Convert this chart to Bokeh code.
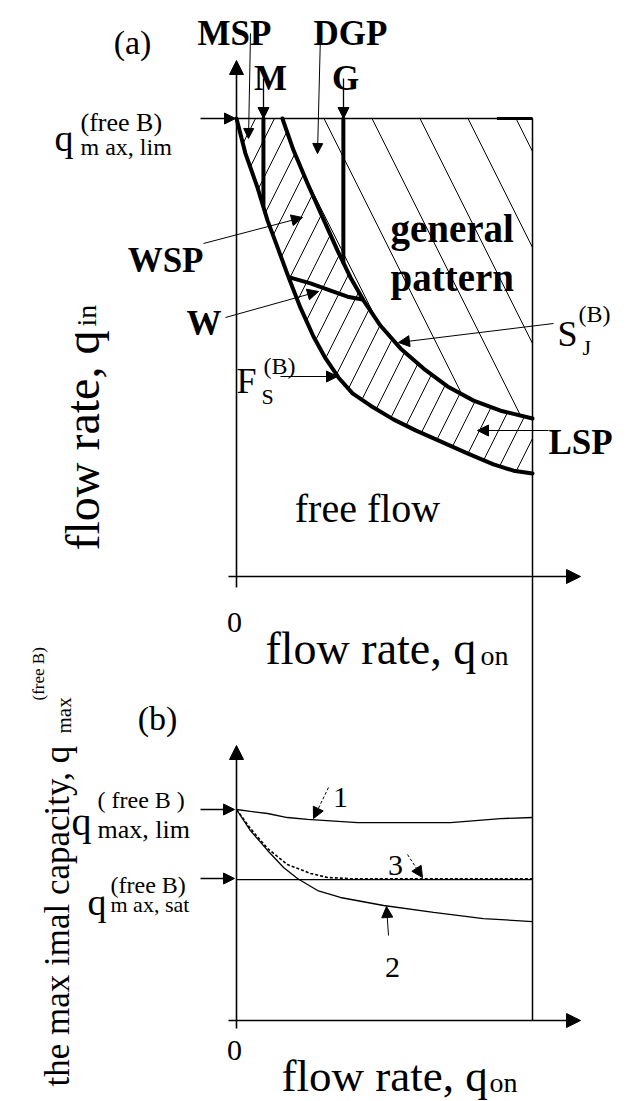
import math
from bokeh.plotting import figure
from bokeh.models import Range1d, Label, Arrow, NormalHead
from bokeh.embed import file_html
from bokeh.resources import INLINE

# ---------------- data: panel (a) ----------------
# lower boundary of synchronized flow F_S^(B)
qon_FS = [0.000, 0.030, 0.071, 0.105, 0.139, 0.176, 0.216, 0.260, 0.301, 0.345,
          0.392, 0.453, 0.530, 0.605, 0.689, 0.780, 0.868, 0.936, 1.000]
qin_FS = [1.000, 0.924, 0.849, 0.777, 0.718, 0.653, 0.587, 0.524, 0.476, 0.434,
          0.400, 0.373, 0.343, 0.319, 0.295, 0.269, 0.245, 0.231, 0.225]
# boundary S_J^(B)
qon_SJ = [0.155, 0.193, 0.240, 0.291, 0.341, 0.385, 0.429, 0.486, 0.554, 0.632,
          0.713, 0.801, 0.892, 1.000]
qin_SJ = [1.000, 0.930, 0.858, 0.784, 0.712, 0.653, 0.603, 0.548, 0.498, 0.454,
          0.415, 0.384, 0.362, 0.345]
# boundary M
qon_M = [0.091, 0.091]
qin_M = [1.000, 0.810]
# boundary G
qon_G = [0.361, 0.361]
qin_G = [1.000, 0.686]
# boundary W
qon_W = [0.179, 0.250, 0.318, 0.375, 0.426]
qin_W = [0.653, 0.640, 0.624, 0.611, 0.605]
qin_lim = 1.0      # q_max,lim^(free B)
qon_end = 1.0      # right limit of the diagram

# ---------------- data: panel (b) ----------------
qon_1 = [0.000, 0.047, 0.105, 0.172, 0.240, 0.409, 0.723, 0.892, 1.000]
cap_1 = [1.000, 0.991, 0.981, 0.962, 0.953, 0.938, 0.938, 0.957, 0.962]
qon_2 = [0.000, 0.047, 0.105, 0.159, 0.206, 0.274, 0.351, 0.497, 0.666, 0.834, 1.000]
cap_2 = [1.000, 0.900, 0.806, 0.725, 0.673, 0.616, 0.583, 0.545, 0.512, 0.483, 0.469]
qon_3 = [0.000, 0.047, 0.105, 0.172, 0.250, 0.307, 0.385, 1.000]
cap_3 = [1.000, 0.910, 0.815, 0.739, 0.697, 0.678, 0.672, 0.672]
cap_lim = 1.0
cap_sat = 0.668

# ---------------- layout (reference pixel frame) ----------------
W, H, M = 634, 1101, 0
OX, SX = 236, 296          # q_on origin and px per unit
OYA, SYA = 576, 458        # panel (a) origin and px per unit
OYB, SYB = 1020, 211       # panel (b) origin and px per unit

def ax(px): return (px - OX) / SX
def ay(py): return (OYA - py) / SYA
def by(py): return (OYB - py) / SYB
def a_to_b(y): return by(OYA - y * SYA)

p = figure(width=W, height=H, output_backend="svg", toolbar_location=None,
           x_range=Range1d((M - OX) / SX, (M + W - OX) / SX),
           y_range=Range1d((OYA - (M + H)) / SYA, (OYA - M) / SYA),
           x_axis_type=None, y_axis_type=None, min_border=0)
p.extra_y_ranges = {"b": Range1d((OYB - (M + H)) / SYB, (OYB - M) / SYB)}
p.outline_line_color = None
p.background_fill_color = "white"
p.border_fill_color = "white"

FONT = "Liberation Serif"

# ---------------- hatched regions (a) ----------------
p.patch(qon_SJ + [qon_end], qin_SJ + [qin_lim], fill_color=None, line_color=None,
        hatch_pattern="\\", hatch_color="black", hatch_scale=96, hatch_weight=1)
p.patch(qon_FS + qon_SJ[::-1], qin_FS + qin_SJ[::-1], fill_color=None, line_color=None,
        hatch_pattern="/", hatch_color="black", hatch_scale=38, hatch_weight=1)

# top line and right boundary
p.line([0, qon_end], [qin_lim, qin_lim], line_color="black", line_width=1.5)
p.line([0.88, qon_end], [qin_lim, qin_lim], line_color="black", line_width=3)
p.line([qon_end, qon_end], [0, a_to_b(qin_lim)], line_color="black", line_width=1.5,
       y_range_name="b")

# thick boundaries
for xs, ys in [(qon_FS, qin_FS), (qon_SJ, qin_SJ), (qon_M, qin_M), (qon_G, qin_G), (qon_W, qin_W)]:
    p.line(xs, ys, line_color="black", line_width=4, line_join="round", line_cap="round")

# ---------------- panel (b) curves ----------------
p.line([0, qon_end], [cap_sat, cap_sat], line_color="black", line_width=1.3, y_range_name="b")
p.line(qon_1, cap_1, line_color="black", line_width=1.3, y_range_name="b")
p.line(qon_2, cap_2, line_color="black", line_width=1.3, y_range_name="b")
p.line(qon_3, cap_3, line_color="black", line_width=1.6, line_dash="3 2", y_range_name="b")

# ---------------- arrows ----------------
def arrow(x0, y0, x1, y1, rng="a", size=10, lw=1.0, dash="solid"):
    if rng == "a":
        ys, ye, rn = ay(y0), ay(y1), "default"
    else:
        ys, ye, rn = by(y0), by(y1), "b"
    p.add_layout(Arrow(end=NormalHead(size=size, fill_color="black", line_color="black", line_width=1),
                       x_start=ax(x0), y_start=ys, x_end=ax(x1), y_end=ye,
                       line_width=lw, line_color="black", line_dash=dash, y_range_name=rn))

# axes
arrow(236, 587, 236, 60, size=14, lw=1.6)
arrow(228, 576, 580, 576, size=14, lw=1.6)
arrow(236, 1028, 236, 745, "b", size=14, lw=1.6)
arrow(228, 1020, 580, 1020, "b", size=14, lw=1.6)
# panel (a) pointers
arrow(200, 118, 235, 118, size=11, lw=1.3)
arrow(250, 33, 248, 138, size=10)
arrow(263, 78, 263, 118, size=11, lw=1.3)
arrow(320, 33, 317, 153, size=10)
arrow(343, 78, 343, 118, size=11, lw=1.3)
arrow(203, 243, 302, 217, size=11)
arrow(225, 317, 318, 291, size=11)
arrow(280, 376, 337, 376, size=11)
arrow(553, 323, 398, 342, size=11)
arrow(548, 430, 477, 430, size=11)
# panel (b) pointers
arrow(200, 809, 234, 809, "b", size=11, lw=1.3)
arrow(200, 878, 234, 878, "b", size=11, lw=1.3)
arrow(328, 787, 313, 818, "b", size=11, dash="3 2")
arrow(388, 935, 386, 906, "b", size=11)
arrow(407, 854, 422, 877, "b", size=11, dash="3 2")

# ---------------- texts ----------------
def txt(s, px, py, size, bold=False, align="left", base="alphabetic", angle=0.0, rng="a"):
    if rng == "a":
        y, rn = ay(py), "default"
    else:
        y, rn = by(py), "b"
    p.add_layout(Label(x=ax(px), y=y, y_range_name=rn, text=s, text_font=FONT,
                       text_font_size=f"{size}px", text_font_style="bold" if bold else "normal",
                       text_align=align, text_baseline=base, angle=angle, text_color="black"))

R = math.pi / 2
# panel (a)
txt("(a)", 132, 42, 34, align="center", base="middle")
txt("MSP", 234, 33, 35, True, "center")
txt("DGP", 350, 33, 35, True, "center")
txt("M", 270, 78, 35, True, "center")
txt("G", 345, 78, 35, True, "center")
txt("q", 54, 137, 38)
txt("(free B)", 80, 122, 26)
txt("m ax, lim", 80, 146, 24)
txt("WSP", 203, 260, 35, True, "right")
txt("W", 221, 323, 35, True, "right")
txt("F", 236, 380, 36)
txt("(B)", 263, 365, 24)
txt("S", 261, 396, 22)
txt("general", 390, 228, 39, True)
txt("pattern", 390, 277, 39, True)
txt("S", 557, 333, 36)
txt("(B)", 578, 313, 24)
txt("J", 582, 347, 22)
txt("LSP", 548, 442, 35, True)
txt("free flow", 367, 508, 40, align="center")
txt("0", 234, 622, 30, align="center")
txt("flow rate, q", 265, 648, 46)
txt("on", 480, 655, 28)
txt("flow rate, q", 82, 550, 48, angle=R)
txt("in", 86, 326, 28, angle=R)
# panel (b)
txt("(b)", 157, 718, 34, align="center", base="middle", rng="b")
txt("q", 71, 821, 40, rng="b")
txt("( free B )", 97, 799, 24, rng="b")
txt("max, lim", 97, 829, 26, rng="b")
txt("q", 87, 901, 38, rng="b")
txt("(free B)", 110, 884, 24, rng="b")
txt("m ax, sat", 110, 904, 22, rng="b")
txt("1", 340, 797, 30, align="center", rng="b")
txt("2", 392, 967, 30, align="center", rng="b")
txt("3", 395, 865, 30, align="center", rng="b")
txt("0", 234, 1050, 30, align="center", rng="b")
txt("flow rate, q", 281, 1075, 45, rng="b")
txt("on", 489, 1082, 28, rng="b")
txt("the max imal capacity, q", 57, 1086, 35, angle=R, rng="b")
txt("max", 63, 733, 21, angle=R, rng="b")
txt("(free B)", 38, 700, 17, angle=R, rng="b")

open("out.html", "w").write(file_html(p, INLINE))
